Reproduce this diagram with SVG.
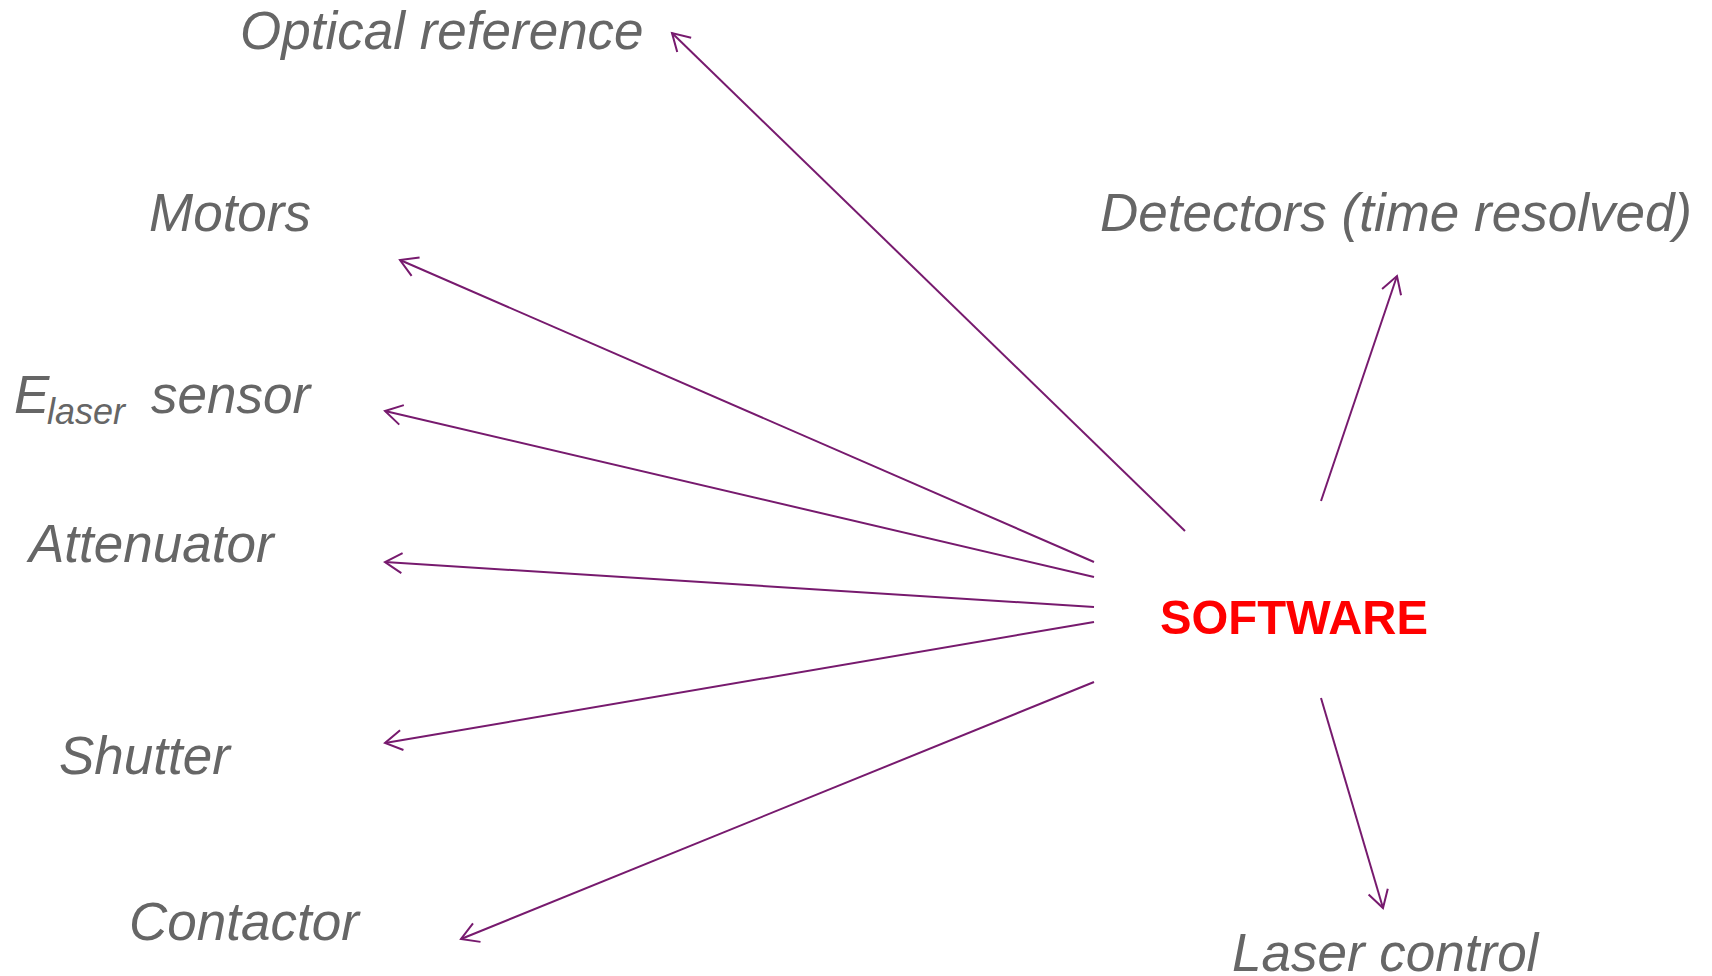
<svg xmlns="http://www.w3.org/2000/svg" width="1712" height="976" viewBox="0 0 1712 976">
<style>
.lbl{font-family:"Liberation Sans",Arial,sans-serif;font-style:italic;font-size:53px;fill:#666666}
.sub{font-size:36px}
.sw{font-family:"Liberation Sans",Arial,sans-serif;font-weight:bold;font-size:49px;fill:#ff0000}
.edge{stroke:#771a6e;stroke-width:2;fill:none;marker-end:url(#arr)}
</style>
<defs>
<marker id="arr" markerUnits="userSpaceOnUse" viewBox="-20 -12 22 24" refX="0" refY="0" markerWidth="22" markerHeight="24" orient="auto" overflow="visible">
<path d="M-17,-10 L0,0 L-17,10" fill="none" stroke="#771a6e" stroke-width="2"/>
</marker>
</defs>
<rect width="1712" height="976" fill="#ffffff"/>
<g id="connectors">
<line class="edge" x1="1185" y1="531" x2="672" y2="33"/>
<line class="edge" x1="1094" y1="562" x2="400" y2="260"/>
<line class="edge" x1="1094" y1="577" x2="385" y2="411"/>
<line class="edge" x1="1094" y1="607" x2="385" y2="562"/>
<line class="edge" x1="1094" y1="622" x2="385" y2="743"/>
<line class="edge" x1="1094" y1="682" x2="461" y2="939"/>
<line class="edge" x1="1321" y1="501" x2="1397" y2="276"/>
<line class="edge" x1="1321" y1="698" x2="1383" y2="908"/>
</g>
<g id="software"><text class="sw" x="1160" y="634" textLength="268" lengthAdjust="spacingAndGlyphs">SOFTWARE</text></g>
<g id="optical-reference"><text class="lbl" x="240" y="49">Optical reference</text></g>
<g id="motors"><text class="lbl" x="149" y="231">Motors</text></g>
<g id="elaser-sensor"><text class="lbl" x="14" y="413">E</text><text class="lbl sub" x="47" y="424">laser</text><text class="lbl" x="151" y="413">sensor</text></g>
<g id="attenuator"><text class="lbl" x="29" y="562">Attenuator</text></g>
<g id="shutter"><text class="lbl" x="59" y="774">Shutter</text></g>
<g id="contactor"><text class="lbl" x="129" y="940">Contactor</text></g>
<g id="detectors"><text class="lbl" x="1100" y="231">Detectors (time resolved)</text></g>
<g id="laser-control"><text class="lbl" x="1232" y="971">Laser control</text></g>
</svg>
